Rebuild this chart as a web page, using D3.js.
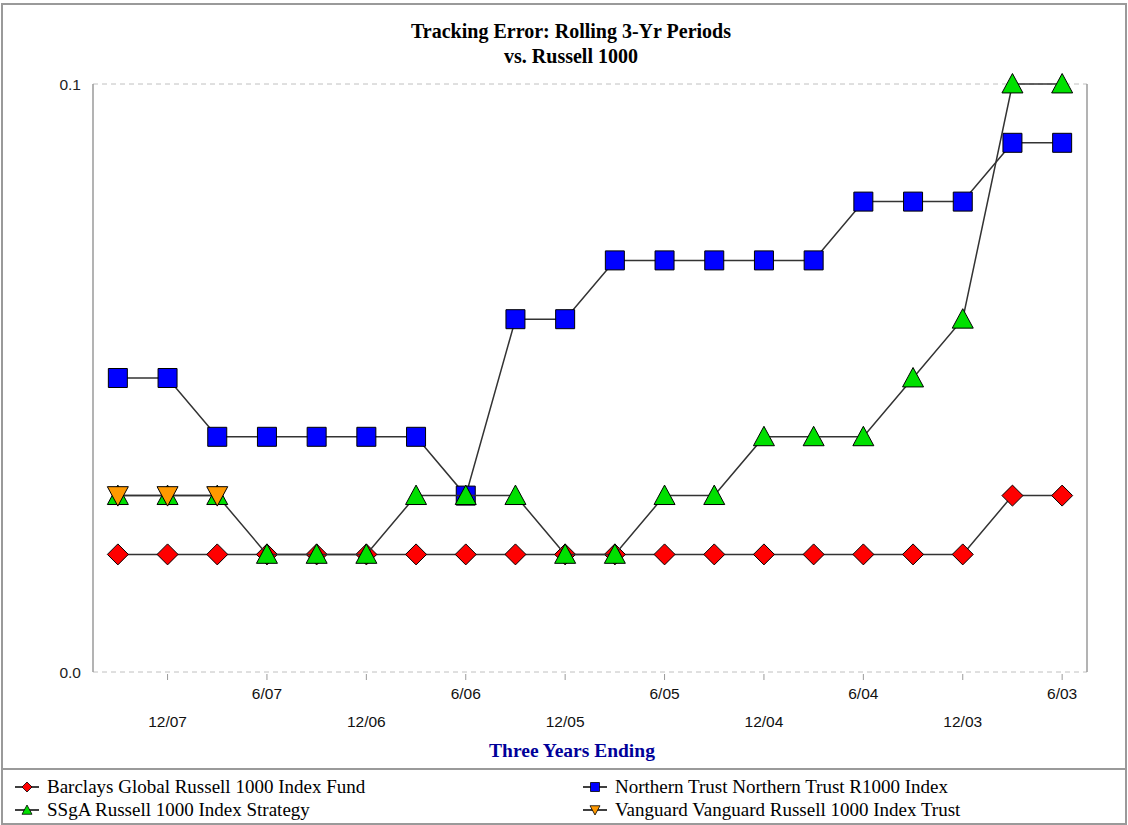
<!DOCTYPE html>
<html>
<head>
<meta charset="utf-8">
<script src="https://cdn.jsdelivr.net/npm/d3@7"></script>
<style>
  html, body { margin: 0; padding: 0; background: #fff; }
  svg { display: block; }
</style>
</head>
<body>
<svg id="chart" width="1128" height="825"></svg>
<script>
// quarter ends, newest first
const periods = ['3/08','12/07','9/07','6/07','3/07','12/06','9/06','6/06','3/06','12/05',
                 '9/05','6/05','3/05','12/04','9/04','6/04','3/04','12/03','9/03','6/03'];
const tickLabels = ['12/07','6/07','12/06','6/06','12/05','6/05','12/04','6/04','12/03','6/03'];
const yTicks = [0, 0.1];

const barclays = [0.02,0.02,0.02,0.02,0.02,0.02,0.02,0.02,0.02,0.02,
                  0.02,0.02,0.02,0.02,0.02,0.02,0.02,0.02,0.03,0.03];
const northern = [0.05,0.05,0.04,0.04,0.04,0.04,0.04,0.03,0.06,0.06,
                  0.07,0.07,0.07,0.07,0.07,0.08,0.08,0.08,0.09,0.09];
const ssga     = [0.03,0.03,0.03,0.02,0.02,0.02,0.03,0.03,0.03,0.02,
                  0.02,0.03,0.03,0.04,0.04,0.04,0.05,0.06,0.10,0.10];
const vanguard = [0.03,0.03,0.03,null,null,null,null,null,null,null,
                  null,null,null,null,null,null,null,null,null,null];

const seriesNames = ['Barclays Global Russell 1000 Index Fund',
                     'Northern Trust Northern Trust R1000 Index',
                     'SSgA Russell 1000 Index Strategy',
                     'Vanguard Vanguard Russell 1000 Index Trust'];

const series = [
  { name: seriesNames[0], values: barclays, color: '#ff0000', shape: 'diamond' },
  { name: seriesNames[1], values: northern, color: '#0000ff', shape: 'square' },
  { name: seriesNames[2], values: ssga,     color: '#00e000', shape: 'up' },
  { name: seriesNames[3], values: vanguard, color: '#ff9900', shape: 'down' }
];

const svg = d3.select('#chart');
const plotL = 93, plotR = 1087, plotT = 84, plotB = 672;

// outer frame and legend separator
svg.append('rect').attr('x', 2).attr('y', 4).attr('width', 1124).attr('height', 820)
  .attr('fill', 'none').attr('stroke', '#9a9a9a').attr('stroke-width', 2);
svg.append('line').attr('x1', 2).attr('x2', 1126).attr('y1', 769).attr('y2', 769)
  .attr('stroke', '#9a9a9a').attr('stroke-width', 2);

// title
const title = svg.append('text').attr('text-anchor', 'middle')
  .style('font-family', '"Liberation Serif", serif').style('font-weight', 'bold')
  .style('font-size', '20px').attr('fill', '#000');
title.append('tspan').attr('x', 571).attr('y', 38).text('Tracking Error: Rolling 3-Yr Periods');
title.append('tspan').attr('x', 571).attr('y', 63).text('vs. Russell 1000');

const x = d3.scalePoint().domain(periods).range([plotL, plotR]).padding(0.5);
const y = d3.scaleLinear().domain([0, 0.1]).range([plotB, plotT]);

// gridlines at the ends of the y range
svg.append('g').selectAll('line').data(yTicks).join('line')
  .attr('x1', plotL).attr('x2', plotR)
  .attr('y1', d => y(d)).attr('y2', d => y(d))
  .attr('stroke', '#c0c0c0').attr('stroke-dasharray', '5,4');

// left and right frame of plot
svg.append('line').attr('x1', plotL).attr('x2', plotL).attr('y1', plotT).attr('y2', plotB)
  .attr('stroke', '#9a9a9a').attr('stroke-width', 1.5);
svg.append('line').attr('x1', plotR).attr('x2', plotR).attr('y1', plotT).attr('y2', plotB)
  .attr('stroke', '#9a9a9a').attr('stroke-width', 1.5);

// y labels
svg.append('g').selectAll('text').data(yTicks).join('text')
  .attr('x', 81).attr('y', d => y(d) + 6).attr('text-anchor', 'end')
  .style('font-family', '"Liberation Sans", sans-serif').style('font-size', '15.5px')
  .attr('fill', '#222').text(d => d3.format('.1f')(d));

// x ticks + staggered labels
const xg = svg.append('g');
xg.selectAll('line').data(tickLabels).join('line')
  .attr('x1', d => x(d)).attr('x2', d => x(d))
  .attr('y1', plotB + 2).attr('y2', plotB + 8)
  .attr('stroke', '#9a9a9a');
xg.selectAll('text').data(tickLabels).join('text')
  .attr('x', d => x(d))
  .attr('y', d => d.startsWith('6/') ? plotB + 27 : plotB + 55)
  .attr('text-anchor', 'middle')
  .style('font-family', '"Liberation Sans", sans-serif').style('font-size', '15.5px')
  .attr('fill', '#111').text(d => d);

svg.append('text').attr('x', 572).attr('y', 757).attr('text-anchor', 'middle')
  .style('font-family', '"Liberation Serif", serif').style('font-weight', 'bold')
  .style('font-size', '19.5px').attr('fill', '#000099').text('Three Years Ending');

function shapePath(shape, s) {
  const h = s / 2;
  if (shape === 'square') return `M${-h},${-h}H${h}V${h}H${-h}Z`;
  if (shape === 'diamond') return `M0,${-h}L${h},0L0,${h}L${-h},0Z`;
  if (shape === 'up') return `M0,${-h}L${h},${h * 0.85}L${-h},${h * 0.85}Z`;
  return `M${-h},${-h * 0.85}L${h},${-h * 0.85}L0,${h}Z`;
}

const line = d3.line()
  .defined(d => d.v != null)
  .x(d => x(d.p)).y(d => y(d.v));

series.forEach(s => {
  const pts = periods.map((p, i) => ({ p, v: s.values[i] }));
  const g = svg.append('g');
  g.append('path').datum(pts).attr('d', line)
    .attr('fill', 'none').attr('stroke', '#333').attr('stroke-width', 1.5);
  g.selectAll('path.m').data(pts.filter(d => d.v != null)).join('path')
    .attr('class', 'm')
    .attr('transform', d => `translate(${x(d.p)},${y(d.v)})`)
    .attr('d', shapePath(s.shape, s.shape === 'square' ? 19 : 21))
    .attr('fill', s.color).attr('stroke', '#000').attr('stroke-width', 1);
});

// legend
const legendPos = [[15, 787], [583, 787], [15, 810], [583, 810]];
series.forEach((s, i) => {
  const [lx, ly] = legendPos[i];
  const g = svg.append('g').attr('transform', `translate(${lx},${ly})`);
  g.append('line').attr('x1', 0).attr('x2', 24).attr('y1', 0).attr('y2', 0)
    .attr('stroke', '#000').attr('stroke-width', 1.5);
  g.append('path').attr('transform', 'translate(12,0)')
    .attr('d', shapePath(s.shape, s.shape === 'square' ? 9 : 10))
    .attr('fill', s.color).attr('stroke', '#000').attr('stroke-width', 0.8);
  g.append('text').attr('x', 32).attr('y', 6)
    .style('font-family', '"Liberation Serif", serif').style('font-size', '19px')
    .attr('fill', '#000').text(s.name);
});
</script>
</body>
</html>
